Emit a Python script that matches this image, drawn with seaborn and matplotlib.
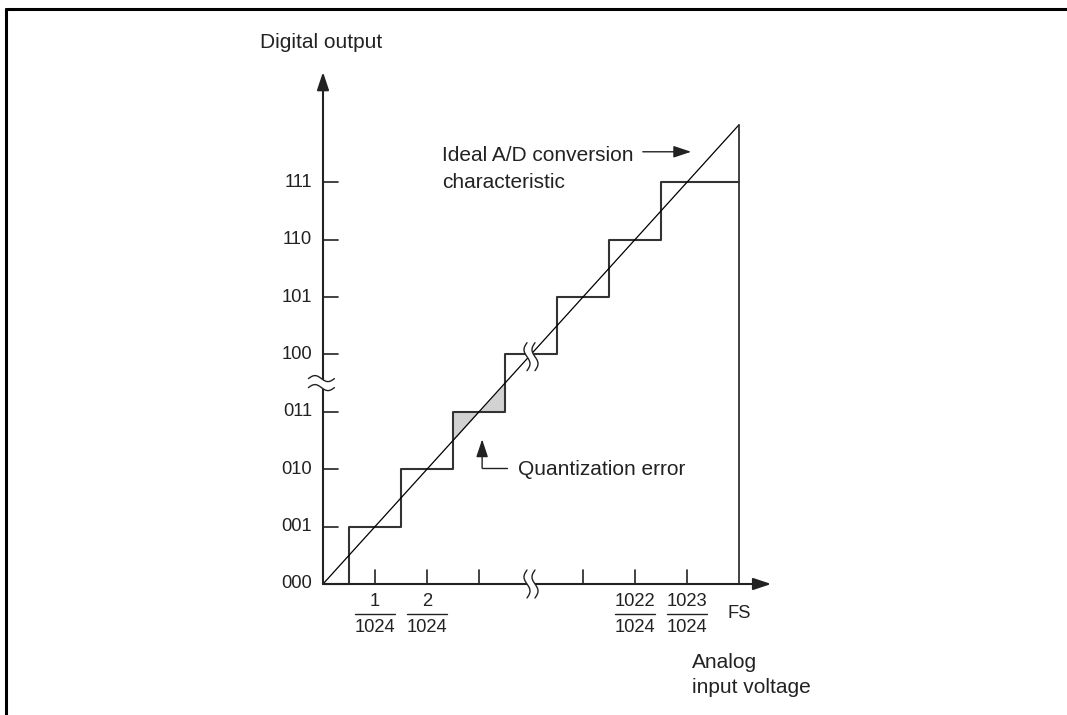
import numpy as np
import pandas as pd
import matplotlib
matplotlib.use("Agg")
import matplotlib.pyplot as plt
from matplotlib.lines import Line2D
import seaborn as sns

# ---------------- data ----------------
codes = ["000", "001", "010", "011", "100", "101", "110", "111"]      # y tick labels (levels 0..7)
step_x = [0.0, 0.5, 1.5, 2.5, 3.5, 4.5, 5.5, 6.5, 8.0]               # code transition points (LSB units)
step_y = [0, 1, 2, 3, 4, 5, 6, 7, 7]                                  # output code after each transition
ideal_x = [0.0, 8.0]
ideal_y = [0.0, 8.0]
xtick_pos = [1, 2, 3, 5, 6, 7]
xtick_num = ["1", "2", "", "", "1022", "1023"]
xtick_den = ["1024", "1024", "", "", "1024", "1024"]
fs_pos = 8
err_x = [2.5, 3.0, 3.5]          # shaded quantization error region
err_step = [3, 3, 3]

# ---------------- figure ----------------
sns.set_theme(style="white")
plt.rcParams["font.family"] = ["Liberation Sans", "DejaVu Sans"]

W, H = 1067, 715
fig = plt.figure(figsize=(W / 100, H / 100), dpi=100)
ax = fig.add_axes([0, 0, 1, 1])
ox, oy = 323, 584       # origin in pixels (from top)
ux, uy = 52.0, 57.4     # pixels per unit
ax.set_xlim(-ox / ux, (W - ox) / ux)
ax.set_ylim(-(H - oy) / uy, oy / uy)
ax.axis("off")

ink = "#222222"

# frame (top and left border)
fig.add_artist(Line2D([6 / W, 1.0], [1 - 9 / H, 1 - 9 / H], transform=fig.transFigure, color="black", lw=2.2))
fig.add_artist(Line2D([6 / W, 6 / W], [0, 1 - 9 / H], transform=fig.transFigure, color="black", lw=2.2))

# shaded quantization error
ax.fill_between(err_x, err_x, err_step, color="#d2d2d2", lw=0, zorder=1)

# staircase and ideal line
stairs = pd.DataFrame({"x": step_x, "y": step_y})
sns.lineplot(data=stairs, x="x", y="y", drawstyle="steps-post", estimator=None, sort=False,
             color="#333333", lw=1.5, ax=ax, zorder=3)
ideal = pd.DataFrame({"x": ideal_x, "y": ideal_y})
sns.lineplot(data=ideal, x="x", y="y", estimator=None, sort=False, color="black", lw=0.9, ax=ax, zorder=3)
# full-scale vertical
ax.plot([fs_pos, fs_pos], [0, ideal_y[-1]], color="#333333", lw=1.3, zorder=3)

# axes with arrows
ap = dict(arrowstyle="-|>,head_length=0.9,head_width=0.3", lw=1.5, color=ink, mutation_scale=12,
          shrinkA=0, shrinkB=0)
ax.annotate("", xy=(0, 8.92), xytext=(0, 0), arrowprops=ap, zorder=4)
ax.annotate("", xy=(8.62, 0), xytext=(0, 0), arrowprops=ap, zorder=4)

fs_tick = 13.2
# y ticks and labels
tick_lx = 15 / ux
tick_ly = 14 / uy
for i, c in enumerate(codes):
    if i > 0:
        ax.plot([0, tick_lx], [i, i], color=ink, lw=1.2, zorder=4)
    ax.text(-11 / ux, i, c, ha="right", va="center", fontsize=fs_tick, color=ink)

# x ticks and fraction labels
for p, n, d in zip(xtick_pos, xtick_num, xtick_den):
    ax.plot([p, p], [0, tick_ly], color=ink, lw=1.2, zorder=4)
    if n:
        ax.text(p, -18 / uy, n, ha="center", va="center", fontsize=fs_tick, color=ink)
        ax.plot([p - 20 / ux, p + 20 / ux], [-30 / uy, -30 / uy], color=ink, lw=1.0)
        ax.text(p, -43 / uy, d, ha="center", va="center", fontsize=fs_tick, color=ink)
ax.text(fs_pos, -29 / uy, "FS", ha="center", va="center", fontsize=fs_tick, color=ink)


# break marks
def vbreak(xc, yc, h=28, gap=8, amp=3.0):
    t = np.linspace(0, 1, 60)
    ys = yc + (t - 0.5) * h / uy
    for dx in (-gap / 2, gap / 2):
        xs = xc + (dx + amp * np.sin(2 * np.pi * t)) / ux
        ax.plot(xs, ys, color=ink, lw=1.0, zorder=6)
    xa = xc + (-gap / 2 + amp * np.sin(2 * np.pi * t)) / ux
    xb = xc + (gap / 2 + amp * np.sin(2 * np.pi * t)) / ux
    ax.fill_betweenx(ys, xa, xb, color="white", lw=0, zorder=5)


def hbreak(xc, yc, w=26, gap=9, amp=3.0):
    t = np.linspace(0, 1, 60)
    xs = xc + (t - 0.5) * w / ux
    for dy in (-gap / 2, gap / 2):
        ys = yc + (dy + amp * np.sin(2 * np.pi * t)) / uy
        ax.plot(xs, ys, color=ink, lw=1.0, zorder=6)
    ya = yc + (-gap / 2 + amp * np.sin(2 * np.pi * t)) / uy
    yb = yc + (gap / 2 + amp * np.sin(2 * np.pi * t)) / uy
    ax.fill_between(xs, ya, yb, color="white", lw=0, zorder=5)


vbreak(4.0, 0.0)
vbreak(4.0, 3.96)
hbreak(-0.03, 3.5)

# annotations
fs_lab = 15
ax.text(-1.21, 9.43, "Digital output", ha="left", va="center", fontsize=fs_lab, color=ink)
ax.text(2.29, 7.47, "Ideal A/D conversion", ha="left", va="center", fontsize=fs_lab, color=ink)
ax.text(2.29, 7.0, "characteristic", ha="left", va="center", fontsize=fs_lab, color=ink)
ax.annotate("", xy=(7.08, 7.53), xytext=(6.15, 7.53),
            arrowprops=dict(arrowstyle="-|>,head_length=0.9,head_width=0.3", lw=1.0, color=ink,
                            mutation_scale=12, shrinkA=0, shrinkB=0))
ax.text(3.75, 1.99, "Quantization error", ha="left", va="center", fontsize=fs_lab, color=ink)
ax.plot([3.54, 3.06], [2.02, 2.02], color=ink, lw=1.0)
ax.annotate("", xy=(3.06, 2.52), xytext=(3.06, 2.02),
            arrowprops=dict(arrowstyle="-|>,head_length=0.9,head_width=0.3", lw=1.0, color=ink,
                            mutation_scale=12, shrinkA=0, shrinkB=0))
ax.text(7.1, -1.36, "Analog", ha="left", va="center", fontsize=fs_lab, color=ink)
ax.text(7.1, -1.80, "input voltage", ha="left", va="center", fontsize=fs_lab, color=ink)

fig.savefig("out.png", dpi=100)
